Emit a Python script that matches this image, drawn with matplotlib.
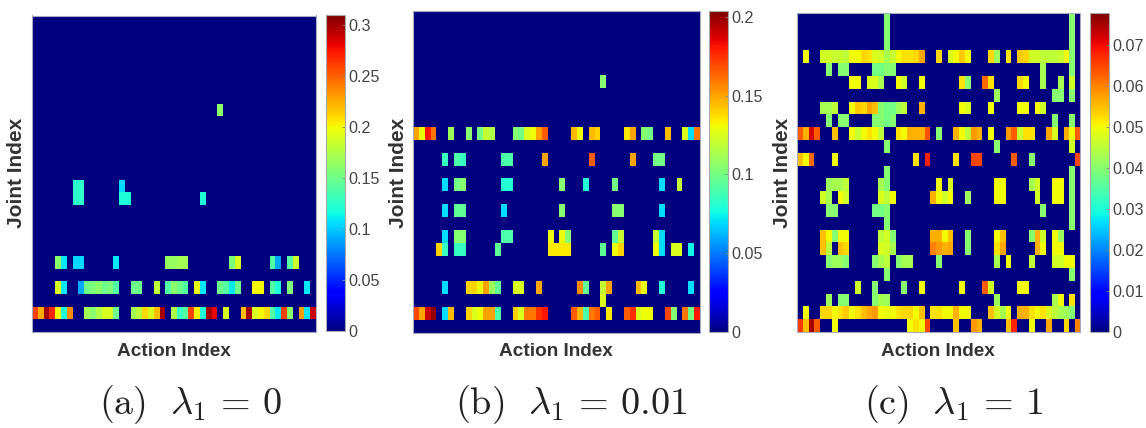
import numpy as np
import matplotlib
matplotlib.use('Agg')
import matplotlib.pyplot as plt

plt.rcParams['font.family'] = ['Liberation Sans', 'DejaVu Sans']
plt.rcParams['mathtext.fontset'] = 'cm'

n_joints = 25
n_actions = 49

# each entry: joint row, first action column
cells_a = [
    (7, 32, [.16]),
    (13, 7, [.125, .125]), (13, 15, [.105]),
    (14, 7, [.125, .125]), (14, 15, [.12, .12]), (14, 29, [.12]),
    (19, 4, [.16, .11]), (19, 7, [.105, .105]), (19, 14, [.11]),
    (19, 23, [.165, .165, .17, .17]), (19, 34, [.155, .19]),
    (19, 41, [.14, .09]), (19, 44, [.14, .185]),
    (21, 4, [.19, .11]), (21, 8, [.09, .15, .155, .16, .15, .155, .14]),
    (21, 17, [.15, .15]), (21, 21, [.18]), (21, 23, [.14, .16, .15, .14]),
    (21, 28, [.195, .11]), (21, 32, [.15, .14, .11, .15]),
    (21, 38, [.2, .2]), (21, 41, [.14, .12]), (21, 44, [.155]), (21, 47, [.11]),
    (23, 0, [.26, .225, .3, .27, .2, .12, .235]),
    (23, 9, [.17, .16, .175, .19, .19, .15]),
    (23, 17, [.17, .18, .21, .19, .22, .3]),
    (23, 24, [.175, .13, .14, .26, .2, .12, .3, .28]),
    (23, 33, [.19]),
    (23, 36, [.22, .3, .19, .2, .21, .14, .11, .26, .16]),
    (23, 46, [.23, .11, .29]),
]

cells_b = [
    (5, 32, [.105]),
    (9, 0, [.15, .13, .18, .16]), (9, 6, [.11]), (9, 9, [.105]),
    (9, 11, [.1, .12, .115]), (9, 17, [.105, .1, .125, .13, .15, .165]),
    (9, 27, [.145, .13]), (9, 30, [.145, .14]), (9, 36, [.135, .15]),
    (9, 39, [.105, .1]), (9, 43, [.145]), (9, 46, [.125, .07, .16]),
    (11, 5, [.085]), (11, 7, [.09, .085]), (11, 15, [.09, .09]), (11, 22, [.15]),
    (11, 30, [.165]), (11, 37, [.15]), (11, 41, [.1, .1]),
    (13, 5, [.07]), (13, 7, [.1, .105]), (13, 15, [.08, .08]), (13, 25, [.105]),
    (13, 29, [.08]), (13, 34, [.1]), (13, 42, [.07]), (13, 45, [.12]),
    (15, 5, [.07]), (15, 7, [.095, .095]), (15, 15, [.07]), (15, 25, [.105]),
    (15, 34, [.105, .105]), (15, 42, [.07]),
    (17, 5, [.07]), (17, 7, [.105, .105]), (17, 15, [.09, .09]), (17, 23, [.13]),
    (17, 25, [.13, .105]), (17, 34, [.095, .12]), (17, 41, [.12, .07]),
    (18, 4, [.14, .085]), (18, 7, [.085, .085]), (18, 14, [.095]),
    (18, 23, [.135, .135, .135, .135]), (18, 32, [.095]), (18, 34, [.13, .14]),
    (18, 41, [.13, .07]), (18, 44, [.125, .125]), (18, 47, [.075]),
    (21, 5, [.07]), (21, 9, [.14, .14, .13, .15, .11, .095]), (21, 17, [.125, .125]),
    (21, 21, [.15]), (21, 28, [.155, .095]), (21, 32, [.12, .15]),
    (21, 38, [.145, .13]), (21, 42, [.08]), (21, 47, [.07]),
    (22, 32, [.125]),
    (23, 0, [.17, .15, .19, .2]), (23, 5, [.07, .145]),
    (23, 9, [.14, .125, .13, .15, .15, .09]),
    (23, 17, [.14, .125, .16, .16, .175, .18]),
    (23, 27, [.165, .145, .09, .16, .165]), (23, 33, [.135]),
    (23, 36, [.165, .175, .125, .13, .13]), (23, 43, [.17, .105]),
    (23, 46, [.16, .1, .18]),
]

cells_c = [
    (0, 15, [.04]), (0, 47, [.04]), (1, 15, [.04]), (1, 47, [.04]),
    (2, 15, [.04]), (2, 47, [.04]),
    (3, 1, [.05]),
    (3, 4, [.047, .047, .046, .046, .045, .05, .05, .053, .052, .048, .047, .043,
            .046, .05, .052, .052, .053, .057]),
    (3, 24, [.053]), (3, 26, [.048, .05, .054, .05]), (3, 33, [.053, .042]),
    (3, 36, [.052]),
    (3, 38, [.054, .053, .047, .047, .045, .045, .045, .046, .05, .04]),
    (4, 5, [.04]), (4, 7, [.04, .04]), (4, 13, [.038, .038, .04, .04]),
    (4, 42, [.043]), (4, 47, [.04]),
    (5, 9, [.05, .05]), (5, 12, [.048, .048, .043]), (5, 17, [.05, .047]),
    (5, 21, [.05]), (5, 28, [.052, .04]), (5, 32, [.062, .052]),
    (5, 38, [.053, .05]), (5, 42, [.043]), (5, 45, [.043]), (5, 47, [.047]),
    (6, 34, [.042]), (6, 44, [.04, .04]), (6, 47, [.04]),
    (7, 4, [.043, .043, .045]),
    (7, 9, [.05, .054, .053, .057, .055, .04, .038, .038, .042, .045]),
    (7, 21, [.056]), (7, 28, [.05, .048]), (7, 33, [.05]), (7, 38, [.05, .05]),
    (7, 41, [.05, .047]),
    (8, 5, [.04]), (8, 7, [.04, .04]), (8, 13, [.04, .04, .038, .04]),
    (8, 44, [.04]), (8, 47, [.04]),
    (9, 0, [.063, .056, .072, .063]), (9, 6, [.055]),
    (9, 9, [.05, .046, .05, .052, .05, .045]),
    (9, 17, [.052, .05, .056, .056, .056, .064]), (9, 24, [.04]),
    (9, 27, [.056, .05, .045, .058, .056]), (9, 33, [.05]),
    (9, 36, [.058, .063, .046, .052, .052]), (9, 43, [.057, .048]),
    (9, 46, [.056, .05, .063]),
    (10, 15, [.04]), (10, 34, [.04]), (10, 47, [.047]),
    (11, 0, [.055, .05, .062]), (11, 6, [.05]), (11, 20, [.052]), (11, 22, [.068]),
    (11, 27, [.052]), (11, 30, [.065, .065]), (11, 37, [.063]), (11, 40, [.04]),
    (11, 48, [.065]),
    (12, 15, [.04]), (12, 47, [.04]),
    (13, 5, [.042, .043, .043, .045]), (13, 14, [.043, .04]), (13, 24, [.05]),
    (13, 26, [.048]), (13, 34, [.05, .05]), (13, 40, [.043, .047]),
    (13, 44, [.05, .05]), (13, 47, [.04]),
    (14, 4, [.047, .043]), (14, 7, [.05, .047]), (14, 14, [.048, .045, .05]),
    (14, 23, [.056, .05, .047, .05]), (14, 29, [.042]), (14, 34, [.05, .05]),
    (14, 41, [.047]), (14, 44, [.05, .05]), (14, 47, [.04]),
    (15, 5, [.04, .04]), (15, 13, [.038, .038, .04]), (15, 42, [.04]), (15, 47, [.04]),
    (16, 15, [.04]), (16, 47, [.04]),
    (17, 4, [.055, .05, .04, .05, .05]), (17, 14, [.045, .047, .04]),
    (17, 23, [.056, .056, .05, .055]), (17, 29, [.04]), (17, 34, [.05, .055]),
    (17, 40, [.04, .056, .047]), (17, 44, [.05, .042]),
    (18, 4, [.055, .045]), (18, 7, [.055, .053]), (18, 14, [.048, .047, .043]),
    (18, 23, [.06, .058, .056, .057]), (18, 29, [.04]), (18, 34, [.052, .057]),
    (18, 41, [.056, .05]), (18, 44, [.05, .05]),
    (19, 5, [.04, .042, .042, .04]), (19, 13, [.04, .043, .045]),
    (19, 17, [.04, .043, .043]), (19, 24, [.04]), (19, 34, [.043]), (19, 36, [.05]),
    (19, 40, [.045]), (19, 44, [.047, .047, .05, .05]),
    (20, 15, [.04]), (20, 47, [.04]),
    (21, 10, [.047]), (21, 13, [.04]), (21, 18, [.04]), (21, 21, [.05]),
    (21, 28, [.05]), (21, 32, [.063, .047]), (21, 38, [.05, .05]),
    (22, 5, [.042]), (22, 7, [.04, .04]), (22, 13, [.04, .043, .042]), (22, 34, [.042]),
    (22, 44, [.043, .05]), (22, 47, [.052]),
    (23, 1, [.05]),
    (23, 4, [.053, .053, .05, .052, .054, .05, .052, .055, .057, .058, .05, .049,
             .05, .052, .053, .053, .05, .055]),
    (23, 23, [.052, .052, .05, .05, .056, .05, .05]),
    (23, 33, [.055, .047, .043, .05]),
    (23, 38, [.056, .056, .052, .05, .052, .048, .045, .043, .042, .04]),
    (24, 0, [.066, .055, .075, .063]), (24, 6, [.05]), (24, 19, [.05, .052, .05, .065]),
    (24, 27, [.055]), (24, 30, [.058, .056]), (24, 36, [.055, .068]), (24, 40, [.05]),
    (24, 43, [.057]), (24, 46, [.053]), (24, 48, [.06]),
]

ticks_a = [0, 0.05, 0.1, 0.15, 0.2, 0.25, 0.3]
ticks_b = [0, 0.05, 0.1, 0.15, 0.2]
ticks_c = [0, 0.01, 0.02, 0.03, 0.04, 0.05, 0.06, 0.07]
labels_a = ['0', '0.05', '0.1', '0.15', '0.2', '0.25', '0.3']
labels_b = ['0', '0.05', '0.1', '0.15', '0.2']
labels_c = ['0', '0.01', '0.02', '0.03', '0.04', '0.05', '0.06', '0.07']
captions = [r'$\mathrm{(a)}\ \ \lambda_1\,=\,0$',
            r'$\mathrm{(b)}\ \ \lambda_1\,=\,0.01$',
            r'$\mathrm{(c)}\ \ \lambda_1\,=\,1$']

W, H = 1146, 428
fig = plt.figure(figsize=(W / 100, H / 100), dpi=100)


def box(x0, y0, x1, y1):
    # pixel box (from top left) to figure fractions
    return [x0 / W, 1 - y1 / H, (x1 - x0) / W, (y1 - y0) / H]


def panel(cells, vmax, ticks, labels, ax_box, cb_box, joint_x, action_x, caption_x, caption):
    grid = np.zeros((n_joints, n_actions))
    for row, col, vals in cells:
        grid[row, col:col + len(vals)] = vals

    ax = fig.add_axes(box(*ax_box))
    im = ax.imshow(grid, cmap='jet', vmin=0, vmax=vmax, aspect='auto', interpolation='nearest')
    ax.set_xticks([])
    ax.set_yticks([])
    for s in ax.spines.values():
        s.set_color('#a9a9c0')
        s.set_linewidth(0.8)

    cax = fig.add_axes(box(*cb_box))
    cb = fig.colorbar(im, cax=cax)
    cb.set_ticks(ticks)
    cb.set_ticklabels(labels)
    cb.ax.tick_params(length=2, width=0.6, direction='in', color='#888888', pad=2.5,
                      labelsize=11.6, labelcolor='#444444')
    cb.outline.set_edgecolor('#a9a9a9')
    cb.outline.set_linewidth(0.8)

    fig.text(joint_x / W, 1 - 173 / H, 'Joint Index', rotation=90, ha='center', va='center',
             fontsize=15, fontweight='bold', color='#333333')
    fig.text(action_x / W, 1 - 351 / H, 'Action Index', ha='center', va='center',
             fontsize=13.7, fontweight='bold', color='#333333')
    fig.text(caption_x / W, 1 - 405 / H, caption, ha='center', va='center',
             fontsize=27.5, color='#222222')


panel(cells_a, 0.31, ticks_a, labels_a, (32, 15.5, 316, 332), (326, 15, 345, 331),
      17, 174, 191, captions[0])
panel(cells_b, 0.2038, ticks_b, labels_b, (413, 11, 699.5, 333), (709, 11, 728, 332),
      398, 556, 571.5, captions[1])
panel(cells_c, 0.0778, ticks_c, labels_c, (796.7, 12.7, 1080.3, 332.3), (1090, 13, 1109, 332),
      782, 938, 953.5, captions[2])

fig.savefig('out.png', dpi=100)
